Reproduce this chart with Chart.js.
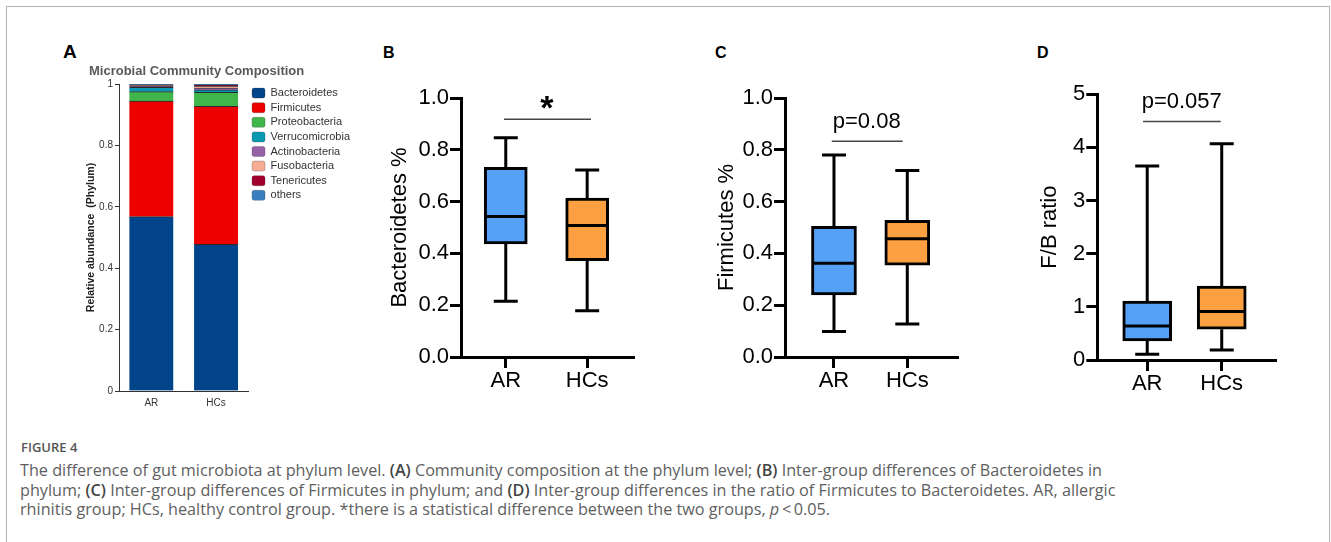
<!DOCTYPE html>
<html>
<head>
<meta charset="utf-8">
<title>Figure 4</title>
<script src="https://cdn.jsdelivr.net/npm/chart.js@4.4.1/dist/chart.umd.min.js"></script>
<style>
  html, body { margin: 0; padding: 0; background: #fff; }
  body { width: 1331px; height: 542px; position: relative; overflow: hidden; font-family: "Liberation Sans", Arial, sans-serif; }
  .frame { position: absolute; left: 6px; top: 6px; width: 1324px; height: 600px; border: 1.5px solid #b3b3b3; border-bottom: none; box-sizing: border-box; }
  canvas { position: absolute; }
  .tag { position: absolute; font-weight: bold; line-height: 1; color: #000; }
  .fig-no { position: absolute; left: 21px; top: 441px; font: 600 13px "Open Sans", sans-serif; line-height: 1; color: #555; }
  .caption { position: absolute; left: 20px; top: 461px; font: 16.2px "Open Sans", sans-serif; line-height: 19.5px; color: #606060; white-space: nowrap; }
  .caption b { font-weight: 600; color: #444; }
</style>
</head>
<body>
<div class="frame"></div>

<div class="tag" style="left:63px;top:42px;font-size:19px">A</div>
<div class="tag" style="left:383px;top:45px;font-size:16px">B</div>
<div class="tag" style="left:715px;top:45px;font-size:16px">C</div>
<div class="tag" style="left:1037px;top:45px;font-size:16px">D</div>

<canvas id="compChart" width="300" height="355" style="left:60px;top:60px"></canvas>
<canvas id="bactChart" width="260" height="317" style="left:385px;top:80px"></canvas>
<canvas id="firmChart" width="257" height="317" style="left:712px;top:80px"></canvas>
<canvas id="ratioChart" width="252" height="320" style="left:1035px;top:80px"></canvas>

<div class="fig-no">FIGURE 4</div>
<div class="caption">The difference of gut microbiota at phylum level. <b>(A)</b> Community composition at the phylum level; <b>(B)</b> Inter-group differences of Bacteroidetes in<br>phylum; <b>(C)</b> Inter-group differences of Firmicutes in phylum; and <b>(D)</b> Inter-group differences in the ratio of Firmicutes to Bacteroidetes. AR, allergic<br>rhinitis group; HCs, healthy control group. *there is a statistical difference between the two groups, <i>p</i>&#8201;&lt;&#8201;0.05.</div>

<script>
const groups = ['AR', 'HCs'];

// relative abundance per phylum, same order as phyla
const phyla = ['Bacteroidetes', 'Firmicutes', 'Proteobacteria', 'Verrucomicrobia',
               'Actinobacteria', 'Fusobacteria', 'Tenericutes', 'others'];
const arAbundance = [0.568, 0.376, 0.031, 0.014, 0.004, 0.002, 0.002, 0.003];
const hcAbundance = [0.478, 0.449, 0.046, 0.008, 0.006, 0.005, 0.004, 0.004];
const abundanceTicks = [0, 0.2, 0.4, 0.6, 0.8, 1];

// box plots: [min, Q1, median, Q3, max]
const bacteroidetesAR = [0.215, 0.437, 0.542, 0.732, 0.847];
const bacteroidetesHC = [0.179, 0.372, 0.508, 0.614, 0.722];
const firmicutesAR = [0.098, 0.240, 0.362, 0.505, 0.780];
const firmicutesHC = [0.127, 0.355, 0.457, 0.528, 0.720];
const fbRatioAR = [0.11, 0.36, 0.64, 1.11, 3.65];
const fbRatioHC = [0.19, 0.58, 0.91, 1.39, 4.07];
const percentTicks = [0, 0.2, 0.4, 0.6, 0.8, 1.0];
const ratioTicks = [0, 1, 2, 3, 4, 5];

const phylumColors = ['#02448a', '#ee0000', '#3fb54a', '#0a99b3', '#9562a8', '#f7ad93', '#a3002e', '#3a80c0'];
const groupColors = ['#55a1f8', '#fda042'];

Chart.defaults.font.family = '"Liberation Sans", Arial, sans-serif';

// whiskers, caps and median line on top of the Q1-Q3 bars
const whiskerPlugin = {
    id: 'whiskers',
    afterDatasetsDraw(chart) {
        const ctx = chart.ctx;
        const xs = chart.scales.x;
        const ys = chart.scales.y;
        const ds = chart.data.datasets[0];
        const bars = chart.getDatasetMeta(0).data;
        ctx.save();
        ctx.strokeStyle = '#000';
        ctx.lineWidth = 3;
        ds.stats.forEach((s, i) => {
            const cx = xs.getPixelForValue(i);
            const half = bars[i].width / 2;
            const cap = 12;
            const [min, q1, med, q3, max] = s.map(v => ys.getPixelForValue(v));
            ctx.beginPath();
            ctx.moveTo(cx, q3); ctx.lineTo(cx, max);
            ctx.moveTo(cx - cap, max); ctx.lineTo(cx + cap, max);
            ctx.moveTo(cx, q1); ctx.lineTo(cx, min);
            ctx.moveTo(cx - cap, min); ctx.lineTo(cx + cap, min);
            ctx.moveTo(cx - half + 1, med); ctx.lineTo(cx + half - 1, med);
            ctx.stroke();
        });
        ctx.restore();
    }
};

// comparison bar with its p-value / star
const pairPlugin = {
    id: 'pairLabel',
    afterDraw(chart, args, opts) {
        const ctx = chart.ctx;
        const xs = chart.scales.x;
        const ys = chart.scales.y;
        const ly = ys.getPixelForValue(opts.lineAt);
        ctx.save();
        ctx.strokeStyle = '#444';
        ctx.lineWidth = 1.5;
        ctx.beginPath();
        ctx.moveTo(xs.getPixelForValue(opts.from), ly);
        ctx.lineTo(xs.getPixelForValue(opts.to), ly);
        ctx.stroke();
        ctx.fillStyle = '#000';
        ctx.font = opts.textFont;
        ctx.textAlign = 'center';
        ctx.textBaseline = 'middle';
        ctx.fillText(opts.text, xs.getPixelForValue(opts.textX), ys.getPixelForValue(opts.textAt));
        ctx.restore();
    }
};

// panel A - stacked composition
new Chart(document.getElementById('compChart'), {
    type: 'bar',
    data: {
        labels: groups,
        datasets: phyla.map((name, i) => ({
            label: name,
            data: [arAbundance[i], hcAbundance[i]],
            backgroundColor: phylumColors[i],
            borderColor: '#2a2a2a',
            borderWidth: { top: 1, right: 0, bottom: 0, left: 0 },
            barThickness: 44
        }))
    },
    options: {
        responsive: false,
        animation: false,
        events: [],
        devicePixelRatio: 1,
        layout: { padding: { left: 29, top: 4, right: 0, bottom: 0 } },
        plugins: {
            tooltip: { enabled: false },
            title: {
                display: true,
                text: 'Microbial Community Composition',
                align: 'start',
                color: '#595959',
                font: { size: 13, weight: 'bold' },
                padding: { top: 0, bottom: 4.4 }
            },
            legend: {
                position: 'right',
                align: 'start',
                fullSize: false,
                maxWidth: 200,
                labels: {
                    boxWidth: 13,
                    boxHeight: 10,
                    useBorderRadius: true,
                    borderRadius: 2,
                    padding: 3.6,
                    color: '#333',
                    font: { size: 11 }
                }
            }
        },
        scales: {
            x: {
                stacked: true,
                afterFit: s => { s.height = 24; },
                ticks: { color: '#333', font: { size: 10 }, padding: 6 },
                grid: { display: true, drawOnChartArea: false, drawTicks: false },
                border: { color: '#333', width: 1 }
            },
            y: {
                stacked: true,
                min: 0,
                max: 1,
                afterBuildTicks: s => { s.ticks = abundanceTicks.map(v => ({ value: v })); },
                afterFit: s => { s.width = 30; },
                ticks: { color: '#333', font: { size: 10 }, padding: 2, callback: v => String(v) },
                grid: { drawOnChartArea: false, tickLength: 4, color: '#333' },
                border: { color: '#333', width: 1 },
                title: {
                    display: true,
                    text: 'Relative abundance  (Phylum)',
                    color: '#222',
                    font: { size: 10.5, weight: 'bold' },
                    padding: { top: -4, bottom: 0 }
                }
            }
        }
    }
});

function boxChart(id, stats, cfg) {
    return new Chart(document.getElementById(id), {
        type: 'bar',
        data: {
            datasets: [{
                data: stats.map((s, i) => ({ x: i, y: [s[1], s[3]] })),
                stats: stats,
                backgroundColor: groupColors,
                borderColor: '#000',
                borderWidth: 3,
                borderSkipped: false,
                barThickness: cfg.boxWidth
            }]
        },
        options: {
            responsive: false,
            animation: false,
            events: [],
            devicePixelRatio: 1,
            layout: { padding: { top: cfg.padTop, right: 12, left: 0, bottom: 0 } },
            plugins: {
                legend: { display: false },
                tooltip: { enabled: false },
                pairLabel: cfg.pair
            },
            scales: {
                x: {
                    type: 'linear',
                    min: cfg.xMin,
                    max: cfg.xMax,
                    offset: false,
                    afterBuildTicks: s => { s.ticks = groups.map((g, i) => ({ value: i })); },
                    afterFit: s => { s.height = 40; },
                    ticks: { callback: v => groups[v], color: '#000', font: { size: 22 }, padding: 0, maxRotation: 0, autoSkip: false },
                    grid: { drawOnChartArea: false, tickLength: 11, color: '#000', lineWidth: 3, offset: false },
                    border: { color: '#000', width: 3 }
                },
                y: {
                    min: cfg.ticks[0],
                    max: cfg.ticks[cfg.ticks.length - 1],
                    afterBuildTicks: s => { s.ticks = cfg.ticks.map(v => ({ value: v })); },
                    afterFit: s => { s.width = cfg.axisWidth; },
                    ticks: { callback: cfg.format, color: '#000', font: { size: 22 }, padding: 1 },
                    grid: { drawOnChartArea: false, tickLength: 11, color: '#000', lineWidth: 3 },
                    border: { color: '#000', width: 3 },
                    title: {
                        display: true,
                        text: cfg.title,
                        color: '#000',
                        font: { size: 22 },
                        padding: { top: cfg.titlePad, bottom: 0 }
                    }
                }
            }
        },
        plugins: [whiskerPlugin, pairPlugin]
    });
}

// panel B
boxChart('bactChart', [bacteroidetesAR, bacteroidetesHC], {
    title: 'Bacteroidetes %',
    ticks: percentTicks,
    format: v => v.toFixed(1),
    axisWidth: 76,
    titlePad: 2,
    padTop: 18,
    xMin: -0.55,
    xMax: 1.563,
    boxWidth: 43,
    pair: { lineAt: 0.918, from: -0.022, to: 1.047, text: '*', textX: 0.506, textAt: 0.955, textFont: 'bold 34px "Liberation Sans", Arial, sans-serif' }
});

// panel C
boxChart('firmChart', [firmicutesAR, firmicutesHC], {
    title: 'Firmicutes %',
    ticks: percentTicks,
    format: v => v.toFixed(1),
    axisWidth: 73,
    titlePad: 1.5,
    padTop: 18,
    xMin: -0.668,
    xMax: 1.678,
    boxWidth: 45,
    pair: { lineAt: 0.833, from: -0.03, to: 0.937, text: 'p=0.08', textX: 0.446, textAt: 0.907, textFont: '22px "Liberation Sans", Arial, sans-serif' }
});

// panel D
boxChart('ratioChart', [fbRatioAR, fbRatioHC], {
    title: 'F/B ratio',
    ticks: ratioTicks,
    format: v => String(v),
    axisWidth: 62.3,
    titlePad: 1.8,
    padTop: 13.3,
    xMin: -0.67,
    xMax: 1.715,
    boxWidth: 49,
    pair: { lineAt: 4.487, from: -0.056, to: 0.987, text: 'p=0.057', textX: 0.463, textAt: 4.862, textFont: '22px "Liberation Sans", Arial, sans-serif' }
});
</script>
</body>
</html>
